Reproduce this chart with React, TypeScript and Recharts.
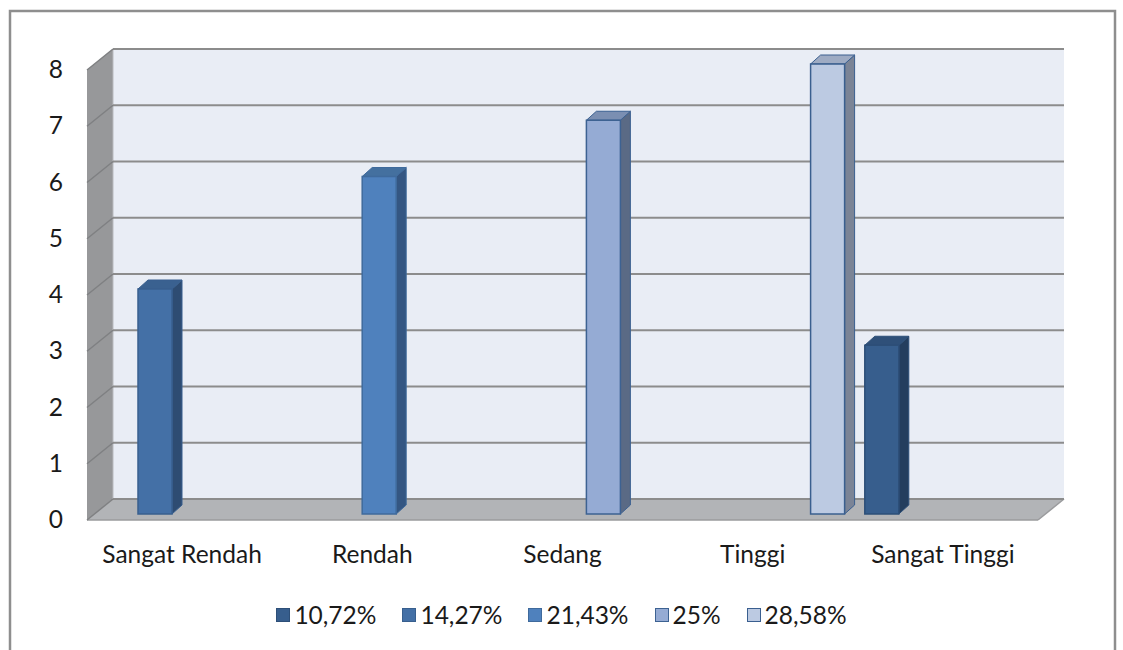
import React from "react";
import { BarChart, Bar, XAxis, YAxis, CartesianGrid } from "recharts";

const categories = ["Sangat Rendah", "Rendah", "Sedang", "Tinggi", "Sangat Tinggi"];
const seriesNames = ["10,72%", "14,27%", "21,43%", "25%", "28,58%"];
const s1072 = [null, null, null, null, 3];
const s1427 = [4, null, null, null, null];
const s2143 = [null, 6, null, null, null];
const s25 = [null, null, 7, null, null];
const s2858 = [null, null, null, 8, null];
const yTicks = [0, 1, 2, 3, 4, 5, 6, 7, 8];

const seriesValues = [s1072, s1427, s2143, s25, s2858];
const palette = [
  { face: "#375e8d", side: "#243e5e", top: "#2f5079", stroke: "#2d4f78" },
  { face: "#4470a6", side: "#2e4c72", top: "#3a6190", stroke: "#385f8e" },
  { face: "#4f81bd", side: "#345682", top: "#44709f", stroke: "#3f6a9c" },
  { face: "#95abd4", side: "#5a6a85", top: "#7b8fb2", stroke: "#3d6292" },
  { face: "#bccae2", side: "#7b8496", top: "#9eabc3", stroke: "#3a5f8f" },
];

const data = categories.map((name, i) => {
  const row: Record<string, any> = { name };
  seriesNames.forEach((s, k) => (row[s] = seriesValues[k][i]));
  return row;
});

// chart geometry (bar plane), walls sit behind / in front of it
const W = 1123;
const H = 650;
const PL = 94, PR = 1045, PT = 64, PB = 514;
const BACK = { dx: 19, dy: -15 };
const FRONT = { dx: -7, dy: 6 };
const D = 10, DD = 9;
const FONT = "Lato, 'Open Sans', sans-serif";
const FS = 24.5;

function Bar3D(props: any) {
  const { x, y, width, height, c } = props;
  if (height == null || height <= 0) return null;
  return (
    <g>
      <polygon
        points={`${x + width},${y} ${x + width + D},${y - DD} ${x + width + D},${y + height - DD} ${x + width},${y + height}`}
        fill={c.side}
        stroke={c.stroke}
        strokeWidth={1}
      />
      <polygon
        points={`${x},${y} ${x + D},${y - DD} ${x + width + D},${y - DD} ${x + width},${y}`}
        fill={c.top}
        stroke={c.stroke}
        strokeWidth={1}
      />
      <rect x={x} y={y} width={width} height={height} fill={c.face} stroke={c.stroke} strokeWidth={1.5} />
    </g>
  );
}

function GridLine(props: any) {
  const { x1, x2, y1 } = props;
  return (
    <g>
      <line x1={x1 + BACK.dx} y1={y1 + BACK.dy} x2={x2 + BACK.dx} y2={y1 + BACK.dy} stroke="#8c8c8c" strokeWidth={2} />
      <line x1={x1 + FRONT.dx} y1={y1 + FRONT.dy} x2={x1 + BACK.dx} y2={y1 + BACK.dy} stroke="#7f8082" strokeWidth={1.5} />
    </g>
  );
}

function YTick(props: any) {
  const { x, y, payload } = props;
  return (
    <text x={x - 31} y={y + FRONT.dy + 8} textAnchor="end" fontFamily={FONT} fontSize={FS} fill="#1a1a1a">
      {payload.value}
    </text>
  );
}

function XTick(props: any) {
  const { x, y, payload } = props;
  return (
    <text x={x + FRONT.dx} y={y + 49} textAnchor="middle" fontFamily={FONT} fontSize={FS} fill="#1a1a1a">
      {payload.value}
    </text>
  );
}

export default function App() {
  const bx = PL + BACK.dx, by = PT + BACK.dy, bx2 = PR + BACK.dx, by2 = PB + BACK.dy;
  const fx = PL + FRONT.dx, fy = PT + FRONT.dy, fx2 = PR + FRONT.dx, fy2 = PB + FRONT.dy;
  return (
    <div style={{ position: "absolute", left: 0, top: 0, width: W, height: H, background: "#fff", overflow: "hidden" }}>
      <svg width={W} height={H} style={{ position: "absolute", left: 0, top: 0 }}>
        <rect x={10} y={11} width={1105} height={680} fill="none" stroke="#8e8e8e" strokeWidth={2.5} />
        <rect x={bx} y={by} width={bx2 - bx} height={by2 - by} fill="#e9edf5" />
        <polygon points={`${fx},${fy} ${bx},${by} ${bx},${by2} ${fx},${fy2}`} fill="#97989a" />
        <polygon points={`${fx},${fy2} ${bx},${by2} ${bx2},${by2} ${fx2},${fy2}`} fill="#b2b4b7" />
        <line x1={fx} y1={fy2} x2={fx2} y2={fy2} stroke="#9a9b9d" strokeWidth={1.5} />
        <line x1={fx2} y1={fy2} x2={bx2} y2={by2} stroke="#9a9b9d" strokeWidth={1.5} />
        <line x1={bx} y1={by} x2={bx} y2={by2} stroke="#b9bbbf" strokeWidth={1} />
      </svg>
      <div style={{ position: "absolute", left: 0, top: 0 }}>
        <BarChart
          width={W}
          height={H}
          data={data}
          margin={{ top: PT, right: W - PR, bottom: H - PB - 40, left: PL - 60 }}
          barGap={0}
          barSize={34}
        >
          <CartesianGrid vertical={false} horizontal={(p: any) => <GridLine {...p} />} />
          <XAxis dataKey="name" height={40} axisLine={false} tickLine={false} tickSize={0} tickMargin={0} tick={<XTick />} interval={0} />
          <YAxis width={60} domain={[0, 8]} ticks={yTicks} axisLine={false} tickLine={false} tickSize={0} tickMargin={0} tick={<YTick />} />
          {seriesNames.map((s, k) => (
            <Bar
              key={s}
              dataKey={s}
              isAnimationActive={false}
              fill={palette[k].face}
              shape={(p: any) => <Bar3D {...p} c={palette[k]} />}
            />
          ))}
        </BarChart>
      </div>
      <div
        style={{
          position: "absolute",
          left: 0,
          top: 600,
          width: W,
          display: "flex",
          justifyContent: "center",
          fontFamily: FONT,
          fontSize: FS,
          color: "#1a1a1a",
          lineHeight: "30px",
        }}
      >
        {seriesNames.map((s, k) => (
          <div key={s} style={{ display: "flex", alignItems: "center", marginRight: k < seriesNames.length - 1 ? 26 : 0 }}>
            <span
              style={{
                display: "inline-block",
                width: 12,
                height: 12,
                background: palette[k].face,
                border: `1.5px solid ${palette[k].stroke}`,
                marginRight: 4,
              }}
            />
            <span>{s}</span>
          </div>
        ))}
      </div>
    </div>
  );
}
